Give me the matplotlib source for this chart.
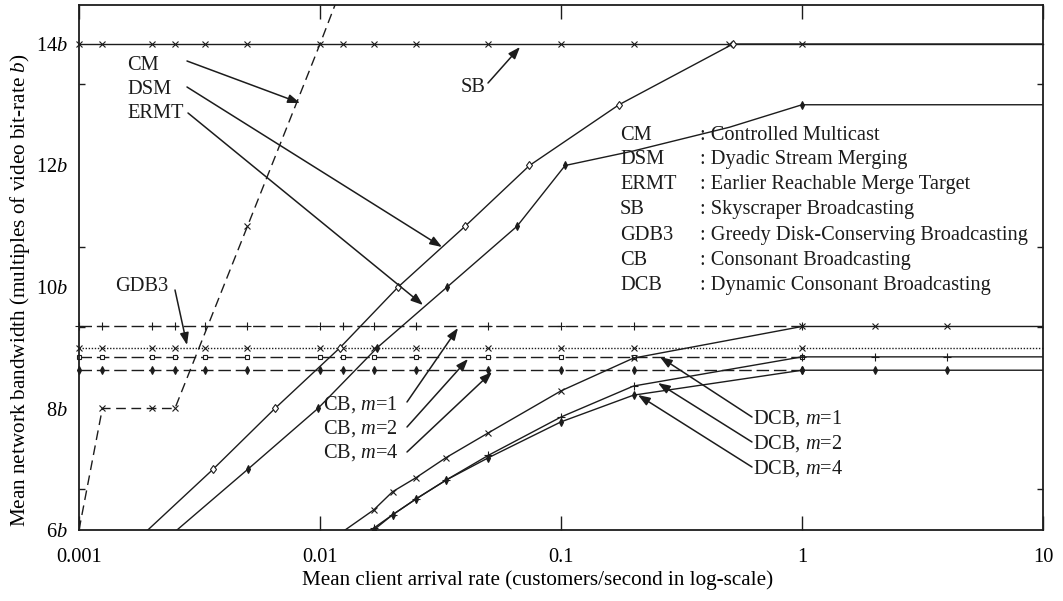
import numpy as np
import matplotlib.pyplot as plt
from matplotlib.ticker import FixedLocator, NullFormatter

plt.rcParams['font.family'] = ['Liberation Serif', 'DejaVu Serif']
plt.rcParams['mathtext.fontset'] = 'custom'
plt.rcParams['mathtext.rm'] = 'Liberation Serif'
plt.rcParams['mathtext.it'] = 'Liberation Serif:italic'

# arrival rates (customers/second) where the curves were sampled
rate_grid = [0.001, 0.00125, 0.002, 0.0025, 0.00333, 0.005, 0.01, 0.0125,
             0.0167, 0.025, 0.05, 0.1, 0.2]

# Skyscraper Broadcasting
sb_x = rate_grid + [0.5, 1, 10]
sb_y = [14] * len(sb_x)

# Controlled Multicast
cm_x = [0.001, 0.00125, 0.002, 0.0025, 0.005, 0.01, 0.0125]
cm_y = [6, 8, 8, 8, 11, 14, 15]

# Dyadic Stream Merging
dsm_x = [0.00193, 0.0036, 0.0065, 0.0121, 0.0211, 0.040, 0.074, 0.174, 0.517, 1, 10]
dsm_y = [6, 7, 8, 9, 10, 11, 12, 13, 14, 14, 14]

# Earlier Reachable Merge Target
ermt_x = [0.00255, 0.00502, 0.0098, 0.01726, 0.0337, 0.0657, 0.104, 0.2, 0.5, 1, 10]
ermt_y = [6, 7, 8, 9, 10, 11, 12, 12.24, 12.63, 13, 13]

# Greedy Disk-Conserving Broadcasting
gdb_x = rate_grid + [1, 10]
gdb_y = [9.0] * len(gdb_x)

# Consonant Broadcasting, m = 1, 2, 4
cb_x = rate_grid + [1]
cb1_y = [9.35] * len(cb_x)
cb2_y = [8.85] * len(cb_x)
cb4_y = [8.63] * len(cb_x)

# Dynamic Consonant Broadcasting, m = 1, 2, 4
dcb_x = [0.0125, 0.0167, 0.02, 0.025, 0.0333, 0.05, 0.1, 0.2, 1, 2, 4, 10]
dcb1_y = [5.98, 6.33, 6.63, 6.86, 7.19, 7.60, 8.29, 8.83, 9.35, 9.35, 9.35, 9.35]
dcb2_y = [5.70, 6.03, 6.25, 6.51, 6.82, 7.23, 7.86, 8.37, 8.85, 8.85, 8.85, 8.85]
dcb4_y = [5.70, 6.00, 6.25, 6.51, 6.82, 7.19, 7.78, 8.22, 8.63, 8.63, 8.63, 8.63]

legend_keys = ['CM', 'DSM', 'ERMT', 'SB', 'GDB3', 'CB', 'DCB']
legend_names = ['Controlled Multicast', 'Dyadic Stream Merging',
                'Earlier Reachable Merge Target', 'Skyscraper Broadcasting',
                'Greedy Disk-Conserving Broadcasting', 'Consonant Broadcasting',
                'Dynamic Consonant Broadcasting']

ytick_vals = [6, 8, 10, 12, 14]
xtick_vals = [0.001, 0.01, 0.1, 1, 10]
xtick_labels = ['0.001', '0.01', '0.1', '1', '10']

ink = '#1c1c1c'
fs = 14.7

# axes box in figure pixels (for placing the annotations)
AX_L, AX_R, AX_T, AX_B = 79, 1043, 5, 530
XMIN, XMAX, YMIN = 0.001, 10, 6
YMAX = YMIN + (AX_B - AX_T) / 60.75


def ref(xp, yp):
    lx = np.log10(XMIN) + (xp - AX_L) / (AX_R - AX_L) * (np.log10(XMAX) - np.log10(XMIN))
    y = YMIN + (AX_B - yp) / (AX_B - AX_T) * (YMAX - YMIN)
    return 10 ** lx, y


fig = plt.figure(figsize=(10.63, 6.01), dpi=100)
ax = fig.add_axes([AX_L / 1063, (601 - AX_B) / 601, (AX_R - AX_L) / 1063, (AX_B - AX_T) / 601])

lw = 1.0
mk = dict(color=ink, lw=lw, mec=ink, mew=0.8)

ax.plot(sb_x, sb_y, marker='x', ms=5, markevery=list(range(len(sb_x) - 1)), clip_on=False, **mk)
ax.plot(gdb_x, gdb_y, ls=(0, (1, 1.2)), marker='x', ms=4.5,
        markevery=list(range(len(gdb_x) - 1)), clip_on=False, **mk)
ax.plot(cb_x, cb1_y, ls=(0, (9, 3.5)), marker='+', ms=6, clip_on=False, **mk)
ax.plot(cb_x, cb2_y, ls=(0, (9, 3.5)), marker='s', ms=3, mfc='white', clip_on=False, **mk)
ax.plot(cb_x, cb4_y, ls=(0, (9, 3.5)), marker='d', ms=4, mfc=ink, clip_on=False, **mk)

ax.plot(cm_x, cm_y, ls=(0, (7, 4)), marker='x', ms=5, markevery=[1, 2, 3, 4], **mk)
ax.plot(dsm_x, dsm_y, marker='d', ms=4.5, mfc='white', markevery=list(range(1, 9)), **mk)
ax.plot(ermt_x, ermt_y, marker='d', ms=4, mfc=ink, markevery=[1, 2, 3, 4, 5, 6, 9], **mk)

ax.plot(dcb_x, dcb1_y, marker='x', ms=5, markevery=list(range(1, 11)), **mk)
ax.plot(dcb_x, dcb2_y, marker='+', ms=6, markevery=list(range(1, 11)), **mk)
ax.plot(dcb_x, dcb4_y, marker='d', ms=4, mfc=ink, markevery=list(range(1, 11)), **mk)

ax.set_xscale('log')
ax.set_xlim(XMIN, XMAX)
ax.set_ylim(YMIN, YMAX)

ax.xaxis.set_major_locator(FixedLocator(xtick_vals))
ax.set_xticklabels(xtick_labels)
ax.xaxis.set_minor_formatter(NullFormatter())
ax.xaxis.set_minor_locator(FixedLocator([]))
ax.tick_params(axis='x', which='major', direction='in', length=10, width=1,
               top=True, pad=13, labelsize=fs, color=ink)

ax.yaxis.set_major_locator(FixedLocator(ytick_vals))
ax.set_yticklabels(['%d$b$' % v for v in ytick_vals])
ax.yaxis.set_minor_locator(FixedLocator([k * 4 / 3 for k in range(5, 11)]))
ax.tick_params(axis='y', which='major', length=0, pad=8, labelsize=fs)
ax.tick_params(axis='y', which='minor', direction='in', length=4, width=1,
               left=True, right=True, color=ink)
for s in ax.spines.values():
    s.set_linewidth(1.3)
    s.set_color(ink)

fig.text(538 / 1063, 1 - 580 / 601, 'Mean client arrival rate (customers/second in log-scale)',
         ha='center', va='center', fontsize=15.2)
fig.text(20 / 1063, 1 - 290 / 601, 'Mean network bandwidth (multiples of video bit-rate $b$)',
         ha='center', va='center', rotation=90, fontsize=15.2)


def label(xp, yp, s, ha='left'):
    x, y = ref(xp, yp)
    ax.text(x, y, s, ha=ha, va='center', fontsize=fs, color=ink)


def arrow(tail, head):
    ax.annotate('', xy=ref(*head), xytext=ref(*tail),
                arrowprops=dict(arrowstyle='-|>,head_length=0.6,head_width=0.22',
                                color=ink, lw=1.1, mutation_scale=12,
                                shrinkA=0, shrinkB=0))


label(127, 65, 'CM')
label(127, 89, 'DSM')
label(127, 113, 'ERMT')
arrow((187, 61), (300, 103))
arrow((187, 87), (442, 247))
arrow((188, 113), (423, 305))

label(486, 88, 'SB', ha='right')
arrow((488, 83), (520, 47))

label(115, 287, 'GDB3')
arrow((175, 290), (187, 345))

label(323, 405, 'CB, $m$=1')
label(323, 429, 'CB, $m$=2')
label(323, 453, 'CB, $m$=4')
arrow((407, 402), (458, 328))
arrow((407, 427), (468, 359))
arrow((407, 452), (492, 372))

label(753, 419, 'DCB, $m$=1')
label(753, 444, 'DCB, $m$=2')
label(753, 469, 'DCB, $m$=4')
arrow((752, 417), (660, 357))
arrow((752, 442), (658, 383))
arrow((752, 467), (638, 395))

for i, (k, n) in enumerate(zip(legend_keys, legend_names)):
    yp = 135 + 25 * i
    label(620, yp, k)
    label(700, yp, ': ' + n)

fig.savefig('out.png', dpi=100, facecolor='white')
